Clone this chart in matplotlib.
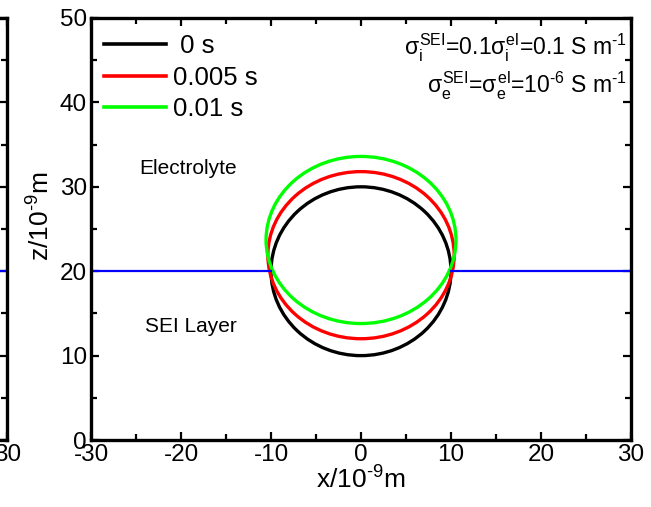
import matplotlib
matplotlib.use("Agg")
import matplotlib.pyplot as plt
from matplotlib.patches import Ellipse
from matplotlib.lines import Line2D
from matplotlib.ticker import MultipleLocator

plt.rcParams['font.family'] = ['Liberation Sans', 'DejaVu Sans']
plt.rcParams['mathtext.fontset'] = 'custom'
plt.rcParams['mathtext.rm'] = 'Liberation Sans'
plt.rcParams['mathtext.it'] = 'Liberation Sans'
plt.rcParams['mathtext.bf'] = 'Liberation Sans:bold'
plt.rcParams['axes.unicode_minus'] = False

# particle outline at each time step (ellipse, nm)
time_labels = [' 0 s', '0.005 s', '0.01 s']
center_z = [20.0, 21.9, 23.7]
half_width = [10.0, 10.35, 10.55]
half_height = [10.0, 9.9, 9.9]
curve_colors = ['black', '#ff0000', '#00ff00']

# SEI / electrolyte interface
iface_z = 20
iface_left = [-30, -10]
iface_right = [10, 30]

x_range = [-30, 30]
z_range = [0, 50]


def style_axes(ax):
    ax.set_xlim(x_range)
    ax.set_ylim(z_range)
    ax.xaxis.set_major_locator(MultipleLocator(10))
    ax.xaxis.set_minor_locator(MultipleLocator(5))
    ax.yaxis.set_major_locator(MultipleLocator(10))
    ax.yaxis.set_minor_locator(MultipleLocator(5))
    ax.tick_params(which='both', direction='in', top=True, right=True,
                   labelsize=17.5, width=1.6, pad=3)
    ax.tick_params(which='major', length=6)
    ax.tick_params(which='minor', length=4)
    for sp in ax.spines.values():
        sp.set_linewidth(2.4)


fig = plt.figure(figsize=(6.51, 5.07), dpi=100)

# right edge of the neighbouring panel (mostly outside the figure)
ax0 = fig.add_axes([-0.818, 0.1321, 0.8295, 0.8324])
style_axes(ax0)
ax0.plot(x_range, [iface_z, iface_z], color='#0000ff', lw=1.6)
ax0.set_xticks([-30, -20, -10, 0, 10, 20, 30])
ax0.set_xticklabels(['', '', '', '', '', '', '30'])
ax0.set_yticklabels([])

ax = fig.add_axes([0.1398, 0.1321, 0.8295, 0.8324])
style_axes(ax)

ax.plot(iface_left, [iface_z, iface_z], color='#0000ff', lw=1.6)
ax.plot(iface_right, [iface_z, iface_z], color='#0000ff', lw=1.6)

handles = []
for lab, cz, a, b, c in zip(time_labels, center_z, half_width, half_height, curve_colors):
    ax.add_patch(Ellipse((0, cz), 2 * a, 2 * b, fill=False, edgecolor=c, lw=2.4))
    handles.append(Line2D([], [], color=c, lw=2.6, label=lab))

ax.legend(handles=handles, loc='upper left', frameon=False, fontsize=18.5,
          handlelength=2.4, handletextpad=0.27, labelspacing=0.3,
          borderpad=0.0, borderaxespad=0.0, bbox_to_anchor=(0.024, 0.962))

ax.text(-24.6, 32.2, 'Electrolyte', fontsize=15, va='center', ha='left')
ax.text(-24.0, 13.4, 'SEI Layer', fontsize=15, va='center', ha='left')

ax.text(29.5, 46.4, r'$\sigma_i^{SEI}$=0.1$\sigma_i^{el}$=0.1 S m$^{\text{-1}}$',
        fontsize=16.5, ha='right', va='center')
ax.text(29.5, 41.9, r'$\sigma_e^{SEI}$=$\sigma_e^{el}$=10$^{\text{-6}}$ S m$^{\text{-1}}$',
        fontsize=16.5, ha='right', va='center')

ax.set_xlabel(r'x/10$^{\text{-9}}$m', fontsize=19, labelpad=0)
ax.set_ylabel(r'z/10$^{\text{-9}}$m', fontsize=19)
ax.yaxis.set_label_coords(-0.067, 0.53)

fig.savefig('out.png', dpi=100)
